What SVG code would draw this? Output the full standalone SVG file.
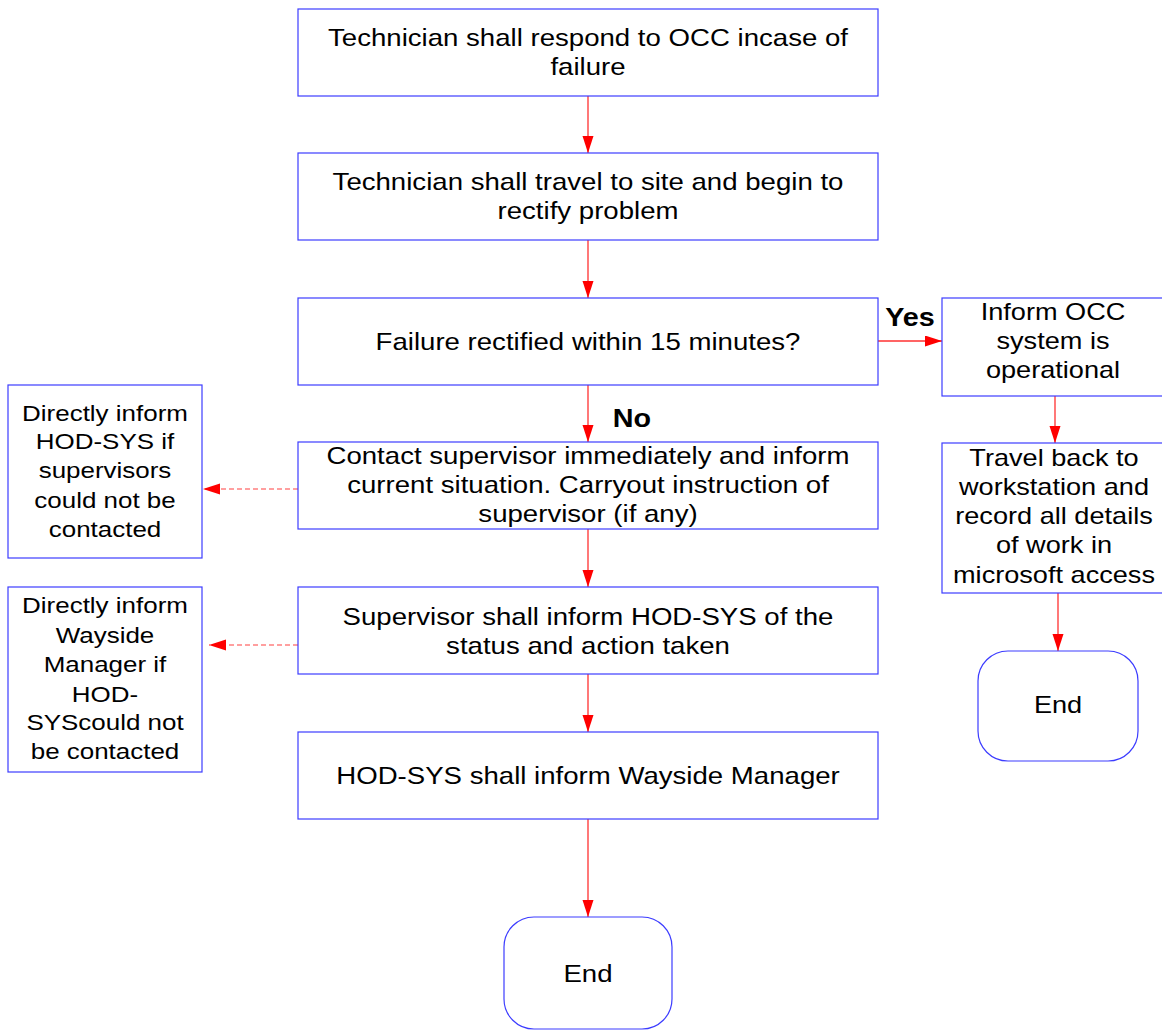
<svg xmlns="http://www.w3.org/2000/svg" width="1162" height="1030" viewBox="0 0 1162 1030">
  <style>
    .box { fill: #ffffff; stroke: #3c3cff; stroke-width: 1.2; }
    .t { font-family: "Liberation Sans", Arial, sans-serif; font-size: 24px; fill: #000; text-anchor: middle; }
    .ts { font-family: "Liberation Sans", Arial, sans-serif; font-size: 22px; fill: #000; text-anchor: middle; }
    .tr { font-family: "Liberation Sans", Arial, sans-serif; font-size: 23px; fill: #000; text-anchor: middle; }
    .lbl { font-family: "Liberation Sans", Arial, sans-serif; font-size: 25px; font-weight: bold; fill: #000; text-anchor: middle; }
    .flow { stroke: #ff3030; stroke-width: 1.3; fill: none; marker-end: url(#arr); }
    .dash { stroke: #ff4040; stroke-width: 1.2; fill: none; stroke-dasharray: 5 3; marker-end: url(#arr); }
  </style>
  <defs>
    <marker id="arr" markerUnits="userSpaceOnUse" markerWidth="18" markerHeight="12" refX="17" refY="5.5" orient="auto">
      <path d="M0,0 L17,5.5 L0,11 z" fill="#ff0000"/>
    </marker>
  </defs>
  <rect width="1162" height="1030" fill="#ffffff"/>

  <!-- connectors -->
  <g id="connectors">
    <line class="flow" x1="588" y1="96" x2="588" y2="153"/>
    <line class="flow" x1="588" y1="240" x2="588" y2="298"/>
    <line class="flow" x1="588" y1="385" x2="588" y2="442"/>
    <line class="flow" x1="588" y1="529" x2="588" y2="587"/>
    <line class="flow" x1="588" y1="674" x2="588" y2="732"/>
    <line class="flow" x1="588" y1="819" x2="588" y2="917"/>
    <line class="flow" x1="878" y1="341" x2="942" y2="341"/>
    <line class="flow" x1="1055" y1="396" x2="1055" y2="443"/>
    <line class="flow" x1="1058" y1="593" x2="1058" y2="651"/>
    <line class="dash" x1="298" y1="489" x2="203" y2="489"/>
    <line class="dash" x1="298" y1="645" x2="209" y2="645"/>
    <text class="lbl" transform="matrix(1.15 0 0 1 910 326)">Yes</text>
    <text class="lbl" transform="matrix(1.15 0 0 1 632 427)">No</text>
  </g>

  <!-- main column -->
  <g id="respond">
    <rect class="box" x="298" y="9" width="580" height="87"/>
    <text class="t" transform="matrix(1.15 0 0 1 588 0)"><tspan x="0" y="46">Technician shall respond to OCC incase of</tspan><tspan x="0" y="75">failure</tspan></text>
  </g>
  <g id="travel">
    <rect class="box" x="298" y="153" width="580" height="87"/>
    <text class="t" transform="matrix(1.15 0 0 1 588 0)"><tspan x="0" y="190">Technician shall travel to site and begin to</tspan><tspan x="0" y="219">rectify problem</tspan></text>
  </g>
  <g id="rectified">
    <rect class="box" x="298" y="298" width="580" height="87"/>
    <text class="t" transform="matrix(1.15 0 0 1 588 0)"><tspan x="0" y="350">Failure rectified within 15 minutes?</tspan></text>
  </g>
  <g id="contact">
    <rect class="box" x="298" y="442" width="580" height="87"/>
    <text class="t" transform="matrix(1.15 0 0 1 588 0)"><tspan x="0" y="464">Contact supervisor immediately and inform</tspan><tspan x="0" y="493">current situation. Carryout instruction of</tspan><tspan x="0" y="522">supervisor (if any)</tspan></text>
  </g>
  <g id="supervisor">
    <rect class="box" x="298" y="587" width="580" height="87"/>
    <text class="t" transform="matrix(1.15 0 0 1 588 0)"><tspan x="0" y="625">Supervisor shall inform HOD-SYS of the</tspan><tspan x="0" y="654">status and action taken</tspan></text>
  </g>
  <g id="hodsys">
    <rect class="box" x="298" y="732" width="580" height="87"/>
    <text class="t" transform="matrix(1.15 0 0 1 588 0)"><tspan x="0" y="784">HOD-SYS shall inform Wayside Manager</tspan></text>
  </g>
  <g id="end-main">
    <rect class="box" x="504" y="917" width="168" height="112" rx="30" ry="30"/>
    <text class="t" transform="matrix(1.15 0 0 1 588 0)"><tspan x="0" y="982">End</tspan></text>
  </g>

  <!-- side notes -->
  <g id="note-supervisor">
    <rect class="box" x="8" y="385" width="194" height="173"/>
    <text class="ts" transform="matrix(1.18 0 0 1 105 0)"><tspan x="0" y="421">Directly inform</tspan><tspan x="0" y="449">HOD-SYS if</tspan><tspan x="0" y="478">supervisors</tspan><tspan x="0" y="508">could not be</tspan><tspan x="0" y="537">contacted</tspan></text>
  </g>
  <g id="note-hodsys">
    <rect class="box" x="8" y="587" width="194" height="185"/>
    <text class="ts" transform="matrix(1.18 0 0 1 105 0)"><tspan x="0" y="613">Directly inform</tspan><tspan x="0" y="643">Wayside</tspan><tspan x="0" y="672">Manager if</tspan><tspan x="0" y="702">HOD-</tspan><tspan x="0" y="730">SYScould not</tspan><tspan x="0" y="759">be contacted</tspan></text>
  </g>

  <!-- yes branch -->
  <g id="inform-occ">
    <rect class="box" x="942" y="298" width="226" height="98"/>
    <text class="tr" transform="matrix(1.18 0 0 1 1053 0)"><tspan x="0" y="320">Inform OCC</tspan><tspan x="0" y="349">system is</tspan><tspan x="0" y="378">operational</tspan></text>
  </g>
  <g id="record">
    <rect class="box" x="942" y="443" width="226" height="150"/>
    <text class="tr" transform="matrix(1.18 0 0 1 1054 0)"><tspan x="0" y="466">Travel back to</tspan><tspan x="0" y="495">workstation and</tspan><tspan x="0" y="524">record all details</tspan><tspan x="0" y="553">of work in</tspan><tspan x="0" y="583">microsoft access</tspan></text>
  </g>
  <g id="end-yes">
    <rect class="box" x="978" y="651" width="160" height="110" rx="30" ry="30"/>
    <text class="tr" transform="matrix(1.18 0 0 1 1058 0)"><tspan x="0" y="713">End</tspan></text>
  </g>
</svg>
